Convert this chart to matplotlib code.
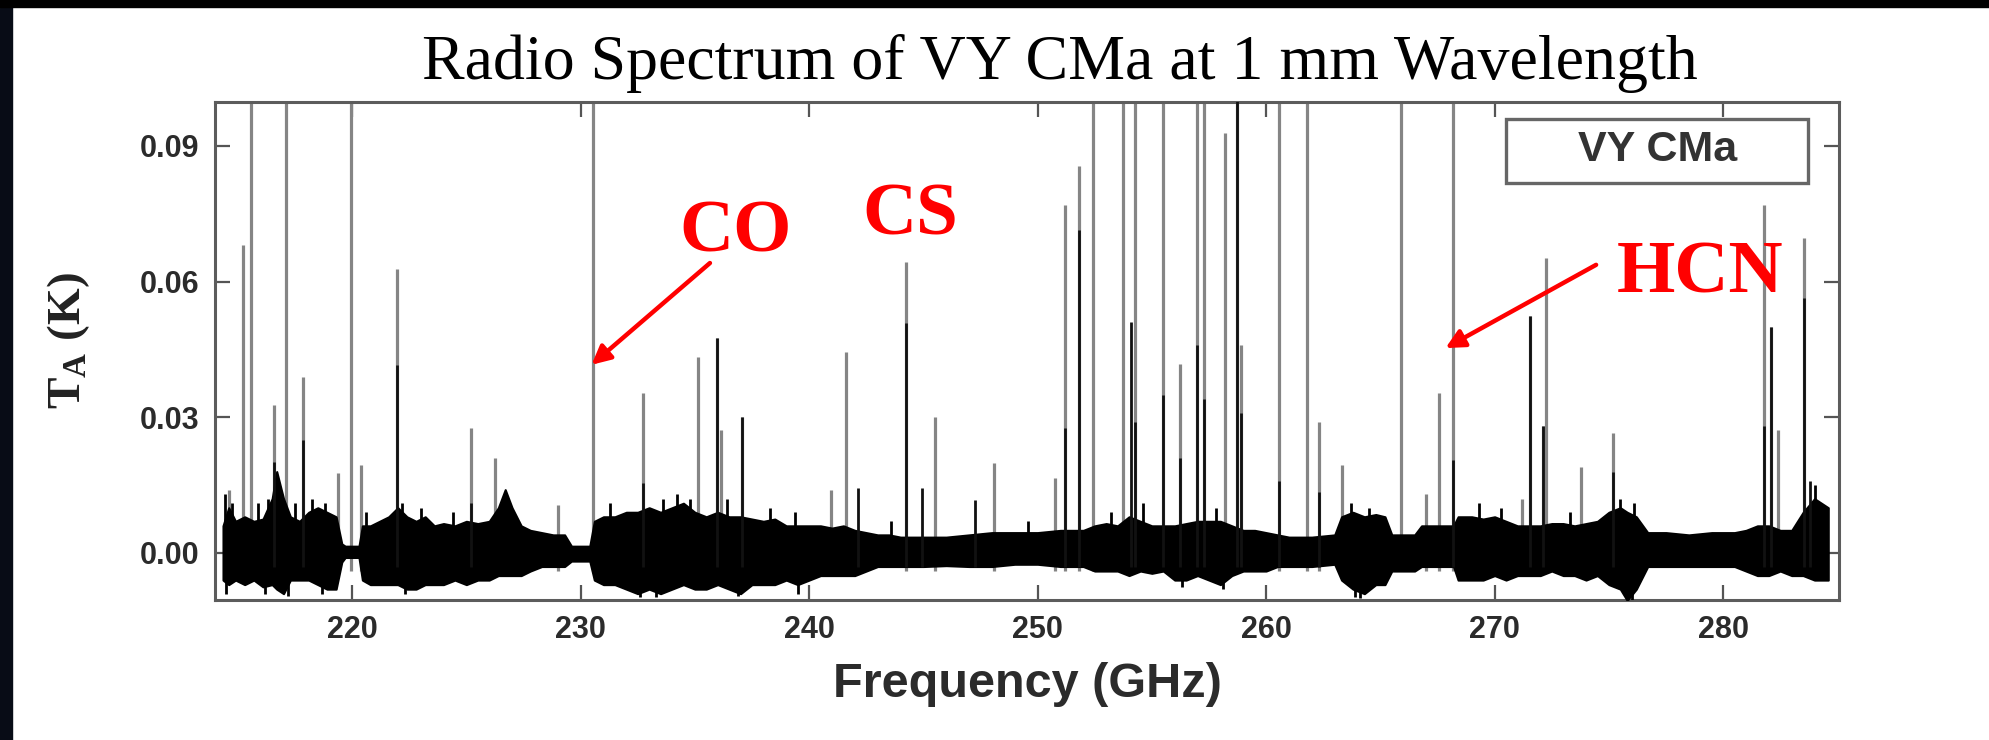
import numpy as np
import matplotlib
matplotlib.use('Agg')
import matplotlib.pyplot as plt
from matplotlib.patches import Rectangle

# upper / lower edge of the black noise band (GHz, K)
env_freq = [214.35, 214.6, 214.9, 215.3, 215.7, 216.1, 216.5, 216.7, 217.0, 217.3,
            217.7, 218.1, 218.5, 218.9, 219.3, 219.55, 219.7, 220.3, 220.45, 220.8,
            221.2, 221.6, 222.0, 222.4, 222.8, 223.2, 223.6, 224.0, 224.5, 225.0,
            225.5, 226.0, 226.4, 226.7, 227.0, 227.4, 227.8, 228.3, 228.8, 229.3,
            229.6, 230.4, 230.6, 231.0, 231.5, 232.0, 232.5, 233.0, 233.5, 234.0,
            234.5, 235.0, 235.5, 236.0, 236.5, 237.0, 237.5, 238.0, 238.5, 239.0,
            239.5, 240.0, 240.5, 241.0, 241.5, 242.0, 242.5, 243.0, 243.5, 244.0,
            245.0, 246.0, 247.0, 248.0, 249.0, 250.0, 251.0, 252.0, 252.5, 253.0,
            253.5, 254.0, 254.5, 255.0, 255.5, 256.0, 256.5, 257.0, 257.5, 258.0,
            258.5, 259.0, 259.5, 260.0, 260.5, 261.0, 262.0, 263.0, 263.3, 263.8,
            264.3, 264.8, 265.2, 265.5, 266.5, 266.8, 267.5, 268.2, 268.4, 269.0,
            269.5, 270.0, 270.5, 271.0, 271.5, 272.0, 272.5, 273.0, 273.5, 274.0,
            274.5, 275.0, 275.5, 275.8, 276.2, 276.7, 277.5, 278.5, 279.5, 280.5,
            281.0, 281.5, 282.0, 282.5, 283.0, 283.5, 284.0, 284.6]
env_hi = [0.006, 0.010, 0.007, 0.008, 0.007, 0.0075, 0.012, 0.018, 0.012, 0.008,
          0.007, 0.009, 0.010, 0.009, 0.008, 0.002, 0.0015, 0.0015, 0.006, 0.006,
          0.007, 0.008, 0.010, 0.008, 0.007, 0.008, 0.006, 0.0065, 0.006, 0.007,
          0.0065, 0.007, 0.010, 0.014, 0.010, 0.006, 0.005, 0.0045, 0.004, 0.004,
          0.0015, 0.0015, 0.007, 0.008, 0.008, 0.009, 0.009, 0.010, 0.009, 0.010,
          0.011, 0.009, 0.008, 0.009, 0.008, 0.008, 0.0075, 0.007, 0.0075, 0.006,
          0.006, 0.006, 0.006, 0.0055, 0.006, 0.005, 0.0045, 0.004, 0.004, 0.0035,
          0.0035, 0.0035, 0.004, 0.0045, 0.0045, 0.0045, 0.005, 0.005, 0.006, 0.0065,
          0.006, 0.008, 0.007, 0.006, 0.006, 0.006, 0.0065, 0.007, 0.007, 0.007,
          0.006, 0.005, 0.005, 0.0045, 0.004, 0.0035, 0.0035, 0.004, 0.008, 0.009,
          0.008, 0.0085, 0.008, 0.004, 0.004, 0.006, 0.006, 0.006, 0.008, 0.008,
          0.0075, 0.008, 0.007, 0.006, 0.006, 0.006, 0.0065, 0.0065, 0.006, 0.0065,
          0.007, 0.009, 0.010, 0.009, 0.008, 0.0045, 0.0045, 0.004, 0.0045, 0.0045,
          0.005, 0.006, 0.006, 0.005, 0.005, 0.009, 0.012, 0.010]
env_lo = [-0.006, -0.007, -0.006, -0.007, -0.006, -0.0075, -0.007, -0.008, -0.009, -0.006,
          -0.006, -0.006, -0.007, -0.008, -0.008, -0.002, -0.001, -0.001, -0.006, -0.007,
          -0.007, -0.007, -0.007, -0.008, -0.008, -0.007, -0.007, -0.007, -0.006, -0.007,
          -0.006, -0.006, -0.005, -0.005, -0.005, -0.005, -0.004, -0.003, -0.003, -0.003,
          -0.0018, -0.0018, -0.006, -0.007, -0.007, -0.008, -0.009, -0.008, -0.009, -0.008,
          -0.007, -0.008, -0.008, -0.007, -0.008, -0.009, -0.007, -0.007, -0.007, -0.006,
          -0.007, -0.006, -0.005, -0.005, -0.005, -0.005, -0.004, -0.003, -0.003, -0.003,
          -0.003, -0.0028, -0.003, -0.003, -0.0025, -0.0025, -0.003, -0.003, -0.004, -0.004,
          -0.004, -0.005, -0.004, -0.0045, -0.004, -0.006, -0.006, -0.005, -0.006, -0.007,
          -0.005, -0.004, -0.004, -0.004, -0.003, -0.003, -0.003, -0.0025, -0.006, -0.008,
          -0.009, -0.007, -0.007, -0.004, -0.004, -0.003, -0.003, -0.003, -0.006, -0.006,
          -0.006, -0.005, -0.006, -0.005, -0.005, -0.005, -0.004, -0.005, -0.005, -0.006,
          -0.005, -0.007, -0.008, -0.0105, -0.008, -0.003, -0.003, -0.003, -0.003, -0.003,
          -0.004, -0.005, -0.005, -0.004, -0.005, -0.005, -0.006, -0.006]

# single noise spikes poking out of the band
spike_up_freq = [214.45, 214.75, 215.9, 216.3, 217.5, 218.25, 218.8, 220.6, 222.2, 223.0,
                 224.4, 231.3, 233.6, 234.2, 234.8, 236.4, 238.3, 239.4, 243.6, 249.6,
                 253.2, 254.6, 257.8, 263.7, 264.5, 269.3, 270.3, 273.3, 275.5, 276.1,
                 284.0]
spike_up_val = [0.013, 0.011, 0.011, 0.012, 0.011, 0.012, 0.011, 0.009, 0.011, 0.010,
                0.009, 0.011, 0.012, 0.013, 0.012, 0.012, 0.010, 0.009, 0.007, 0.007,
                0.009, 0.011, 0.010, 0.011, 0.010, 0.011, 0.010, 0.009, 0.012, 0.011,
                0.015]
spike_dn_freq = [214.5, 216.2, 217.2, 218.7, 222.3, 232.6, 233.3, 236.9, 239.5, 256.3,
                 258.1, 263.9, 264.1, 275.8, 276.0]
spike_dn_val = [-0.009, -0.009, -0.0095, -0.009, -0.009, -0.0097, -0.0098, -0.0095, -0.009, -0.0075,
                -0.008, -0.0097, -0.0099, -0.0104, -0.0104]

# emission lines, grey part (0.15 = runs off the top)
gray_freq = [214.6, 215.24, 215.57, 216.57, 217.09, 217.84, 219.4, 219.95, 220.38, 221.98,
             225.2, 226.24, 229.0, 230.54, 232.73, 235.15, 235.97, 236.16, 237.08, 240.95,
             241.63, 244.24, 245.5, 248.08, 250.76, 251.2, 251.8, 252.42, 253.74, 254.24,
             255.5, 256.23, 256.97, 257.3, 258.2, 258.73, 258.9, 260.55, 261.8, 262.3,
             263.3, 265.92, 267.0, 267.56, 268.19, 271.2, 271.55, 272.1, 272.24, 273.8,
             275.2, 281.78, 282.1, 282.4, 283.56]
gray_top = [0.014, 0.068, 0.15, 0.0327, 0.15, 0.039, 0.0177, 0.15, 0.0195, 0.0628,
            0.0276, 0.021, 0.0106, 0.15, 0.0353, 0.0434, 0.0475, 0.0272, 0.0301, 0.0139,
            0.0445, 0.0644, 0.0301, 0.0199, 0.0166, 0.077, 0.0856, 0.15, 0.15, 0.15,
            0.15, 0.0418, 0.15, 0.15, 0.0929, 0.15, 0.046, 0.15, 0.15, 0.029,
            0.0195, 0.15, 0.013, 0.0353, 0.15, 0.012, 0.0523, 0.028, 0.0652, 0.019,
            0.0265, 0.077, 0.050, 0.0272, 0.0697]

# darker cores of the lines
black_freq = [216.57, 217.84, 221.98, 225.2, 232.73, 235.97, 237.08, 242.12, 244.24, 244.94,
              247.24, 251.2, 251.8, 254.1, 254.24, 255.5, 256.23, 256.97, 257.3, 258.73,
              258.9, 260.55, 262.3, 268.19, 271.55, 272.1, 275.2, 281.78, 282.1, 283.56,
              283.8]
black_top = [0.020, 0.025, 0.0416, 0.011, 0.0155, 0.0475, 0.0301, 0.0143, 0.0508, 0.0143,
             0.0118, 0.0277, 0.0714, 0.0511, 0.029, 0.035, 0.021, 0.046, 0.034, 0.15,
             0.031, 0.016, 0.0135, 0.0206, 0.0523, 0.028, 0.018, 0.028, 0.050, 0.0564,
             0.016]

xticks = [220, 230, 240, 250, 260, 270, 280]
yticks = [0.00, 0.03, 0.06, 0.09]

plt.rcParams['mathtext.fontset'] = 'custom'
plt.rcParams['mathtext.rm'] = 'Liberation Serif'
plt.rcParams['mathtext.bf'] = 'Liberation Serif:bold'

fig = plt.figure(figsize=(19.9, 7.4), dpi=100)
fig.patch.set_facecolor('white')
ax = fig.add_axes([215 / 1990, 140 / 740, 1624 / 1990, 498 / 740])

ax.vlines(gray_freq, -0.004, gray_top, colors='#858585', lw=2.3, zorder=2)
ax.fill_between(env_freq, env_lo, env_hi, facecolor='black', edgecolor='black', lw=1.5, zorder=3)
ax.vlines(spike_up_freq, 0, spike_up_val, colors='black', lw=2.0, zorder=3)
ax.vlines(spike_dn_freq, 0, spike_dn_val, colors='black', lw=2.0, zorder=3)
ax.vlines(black_freq, -0.003, black_top, colors='#111111', lw=2.0, zorder=4)

ax.set_xlim(214.0, 285.07)
ax.set_ylim(-0.0104, 0.0997)
ax.set_xticks(xticks)
ax.set_yticks(yticks)
ax.set_yticklabels(['%.2f' % v for v in yticks])

for s in ax.spines.values():
    s.set_color('#5c5c5c')
    s.set_linewidth(2.2)
ax.tick_params(direction='in', length=11, width=1.6, color='#555555',
               top=True, right=True, labelsize=22, labelcolor='#2b2b2b', pad=11)
for lab in ax.get_xticklabels() + ax.get_yticklabels():
    lab.set_fontweight('bold')
    lab.set_fontfamily('Liberation Sans')

ax.set_xlabel('Frequency (GHz)', fontsize=35, fontweight='bold', family='Liberation Sans',
              color='#2b2b2b', labelpad=12)
ax.set_ylabel(r'$\mathbf{T_A}$ (K)', fontsize=34, fontweight='bold', family='Liberation Serif',
              color='#222222')
ax.yaxis.set_label_coords(-0.076, 0.52)

# legend-like box
ax.add_patch(Rectangle((0.795, 0.837), 0.186, 0.129, transform=ax.transAxes,
                       fill=True, facecolor='white', edgecolor='#666666', lw=2.4, zorder=6))
ax.text(0.888, 0.903, 'VY CMa', transform=ax.transAxes, ha='center', va='center',
        fontsize=31, fontweight='bold', family='Liberation Sans', color='#333333', zorder=7)

# red labels and arrows
red = '#ff0000'
ax.text(236.78, 0.0666, 'CO', color=red, fontsize=54, fontweight='bold',
        family='Liberation Serif', ha='center', va='baseline', zorder=8)
ax.text(244.42, 0.0703, 'CS', color=red, fontsize=54, fontweight='bold',
        family='Liberation Serif', ha='center', va='baseline', zorder=8)
ax.text(278.97, 0.0575, 'HCN', color=red, fontsize=54, fontweight='bold',
        family='Liberation Serif', ha='center', va='baseline', zorder=8)
arrow = dict(arrowstyle='-|>', color=red, lw=3.2, mutation_scale=28, shrinkA=0, shrinkB=0)
ax.annotate('', xy=(230.48, 0.0416), xytext=(235.66, 0.0641), arrowprops=arrow, zorder=8)
ax.annotate('', xy=(267.85, 0.0453), xytext=(274.44, 0.0637), arrowprops=arrow, zorder=8)

fig.text(1060 / 1990, 1 - 79 / 740, 'Radio Spectrum of VY CMa at 1 mm Wavelength',
         ha='center', va='baseline', fontsize=46, family='Liberation Serif', color='black')

# black screen edges
fig.patches.append(Rectangle((0, 0), 12 / 1990, 1, transform=fig.transFigure,
                             color='#080c16', zorder=10))
fig.patches.append(Rectangle((0, 1 - 7 / 740), 1, 7 / 740, transform=fig.transFigure,
                             color='black', zorder=10))

fig.savefig('out.png', dpi=100)
